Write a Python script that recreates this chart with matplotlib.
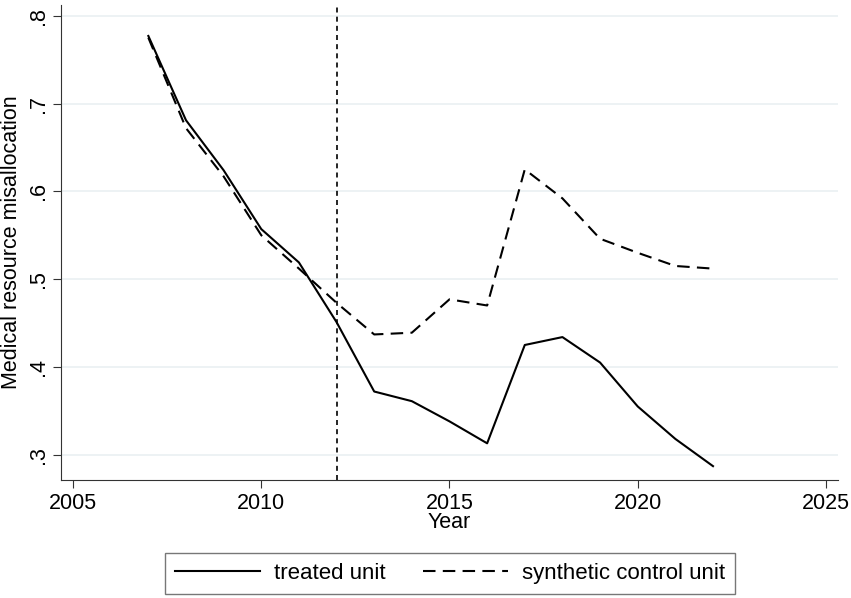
import matplotlib
matplotlib.use("Agg")
import matplotlib.pyplot as plt

plt.rcParams['font.family'] = ['Liberation Sans', 'DejaVu Sans']

years = list(range(2007, 2023))
treated = [0.777, 0.681, 0.624, 0.557, 0.519, 0.451, 0.372, 0.361, 0.338, 0.313,
           0.425, 0.434, 0.405, 0.355, 0.318, 0.287]
synthetic = [0.775, 0.672, 0.617, 0.550, 0.512, 0.473, 0.437, 0.439, 0.477, 0.470,
             0.625, 0.592, 0.546, 0.530, 0.515, 0.512]
treat_year = 2012
xticks = [2005, 2010, 2015, 2020, 2025]
yticks = [0.3, 0.4, 0.5, 0.6, 0.7, 0.8]
ytick_labels = ['.3', '.4', '.5', '.6', '.7', '.8']

fs = 15.5
fig = plt.figure(figsize=(8.51, 5.98), dpi=100)
ax = fig.add_axes([0.0717, 0.197, 0.913, 0.795])

for y in yticks:
    ax.axhline(y, color='#eaf0f2', lw=1.2, zorder=0)

ax.plot(years, treated, color='black', lw=1.5, label='treated unit')
ax.plot(years, synthetic, color='black', lw=1.5, dashes=(6, 3.5), label='synthetic control unit')
ax.axvline(treat_year, color='black', lw=1.2, dashes=(3, 2.5))

ax.set_xlim(2004.68, 2025.32)
ax.set_ylim(0.271, 0.8125)
ax.set_xticks(xticks)
ax.set_yticks(yticks)
ax.set_yticklabels(ytick_labels, rotation=90, va='center')
ax.tick_params(labelsize=fs, length=6, color='#333333', pad=3)
for s in ['top', 'right']:
    ax.spines[s].set_visible(False)
for s in ['left', 'bottom']:
    ax.spines[s].set_color('#333333')
ax.set_xlabel('Year', fontsize=fs, labelpad=-1)
ax.set_ylabel('Medical resource misallocation', fontsize=fs, labelpad=4)

leg = fig.legend(loc='center', bbox_to_anchor=(0.529, 0.041), ncol=2, fontsize=16,
                 handlelength=3.8, handletextpad=0.64, columnspacing=1.7,
                 frameon=True, fancybox=False, edgecolor='#555555', borderpad=0.45)
leg.get_frame().set_linewidth(1.0)

fig.savefig('out.png', dpi=100)
